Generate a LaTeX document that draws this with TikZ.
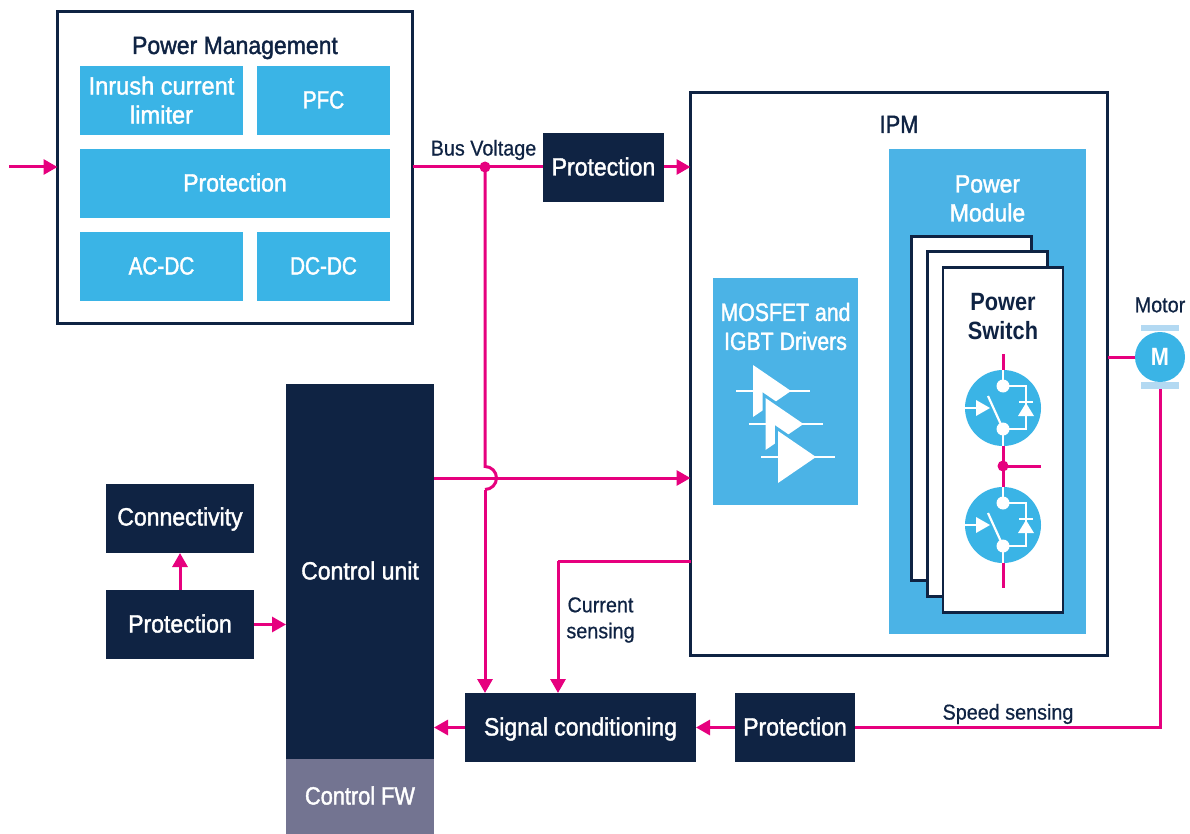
\documentclass[tikz,border=0pt]{standalone}
\usepackage{fontspec}
\setmainfont[FakeStretch=0.92,FakeBold=1.5]{Liberation Sans}
\newfontfamily\capsfont[FakeStretch=0.83,FakeBold=1.5]{Liberation Sans}
\newfontfamily\driverfont[FakeStretch=0.85,FakeBold=1.5]{Liberation Sans}
\newfontfamily\widefont[FakeStretch=0.87,FakeBold=1.5]{Liberation Sans}
\newfontfamily\inrushfont[FakeStretch=0.945,FakeBold=1.5]{Liberation Sans}
\newfontfamily\switchfont[FakeStretch=0.87]{Liberation Sans Bold}
\newfontfamily\labelfont[FakeStretch=0.92,FakeBold=0.6]{Liberation Sans}
\usetikzlibrary{arrows.meta}
\definecolor{stnavy}{HTML}{0F2343}
\definecolor{stpink}{HTML}{E6007E}
\definecolor{stblue}{HTML}{3AB4E6}
\definecolor{stsky}{HTML}{4BB3E6}
\definecolor{stpale}{HTML}{B3D9F2}
\definecolor{stgrey}{HTML}{737491}
\tikzset{
  txt/.style={font=\fontsize{25}{29}\selectfont, align=center, inner sep=0pt, outer sep=0pt},
  single/.style={text height=18pt, text depth=2pt},
  small/.style={font=\fontsize{21.5}{26}\selectfont\labelfont, align=center, inner sep=0pt, text=stnavy},
  outerbox/.style={txt, draw=stnavy, line width=2.8pt, fill=white, text=stnavy},
  lightbox/.style={txt, fill=stblue, text=white},
  darkbox/.style={txt, single, fill=stnavy, text=white},
  wire/.style={draw=stpink, line width=3pt},
  flow/.style={wire, -{Triangle[length=14pt,width=15pt]}},
  whiteline/.style={draw=white, line width=2.2pt}
}

\begin{document}
\begin{tikzpicture}[x=1pt,y=-1pt]
            \useasboundingbox (0, 0) rectangle (1190, 834);
            % power management
            \node[outerbox, minimum width=355, minimum height=312] (pm) at (235, 167.5) {};
            \node[txt, single, text=stnavy] (pmtitle) at (235, 46) {Power Management};
            \node[lightbox, minimum width=163, minimum height=69, font=\fontsize{25}{29}\selectfont\inrushfont] (inrush) at (161.5, 100.5) {\raisebox{1pt}{Inrush current}\\\raisebox{1pt}{limiter}};
            \node[lightbox, single, minimum width=133, minimum height=69, font=\fontsize{25}{29}\selectfont\capsfont] (pfc) at (323.5, 100.5) {PFC};
            \node[lightbox, single, minimum width=310, minimum height=69] (pmprot) at (235, 183.5) {Protection};
            \node[lightbox, single, minimum width=163, minimum height=69, font=\fontsize{25}{29}\selectfont\capsfont] (acdc) at (161.5, 266.5) {AC-DC};
            \node[lightbox, single, minimum width=133, minimum height=69, font=\fontsize{25}{29}\selectfont\capsfont] (dcdc) at (323.5, 266.5) {DC-DC};
            % ipm
            \node[outerbox, minimum width=417, minimum height=563] (ipm) at (899, 374) {};
            \node[txt, single, text=stnavy, font=\fontsize{25}{29}\selectfont\widefont] (ipmtitle) at (899, 125) {IPM};
            \node[lightbox, fill=stsky, minimum width=197, minimum height=485] (module) at (987.5, 391.5) {};
            \node[txt, text=white] (moduletitle) at (987.5, 198.5) {Power\\Module};
            \node[outerbox, minimum width=120, minimum height=344] (sheeta) at (971.5, 408.5) {};
            \node[outerbox, minimum width=120, minimum height=345] (sheetb) at (987.5, 424) {};
            \node[outerbox, minimum width=120, minimum height=345] (sheetc) at (1003, 440) {};
            \node[txt, text=stnavy, font=\fontsize{25}{29}\selectfont\switchfont] (switchtitle) at (1003, 316.5) {Power\\Switch};
            % drivers
            \node[lightbox, fill=stsky, minimum width=145, minimum height=227] (drivers) at (785.5, 391.5) {};
            \node[txt, text=white, font=\fontsize{25}{29}\selectfont\driverfont] (driverstitle) at (785.5, 326.5) {MOSFET and\\IGBT Drivers};
            \foreach \s in {0, 1, 2} {
              \draw[draw=stsky, line width=6pt] (753+12.5*\s, 365+33*\s) -- (791+12.5*\s, 391+33*\s) -- (753+12.5*\s, 417+33*\s) -- cycle;
              \draw[whiteline] (736+12.5*\s, 391+33*\s) -- (810+12.5*\s, 391+33*\s);
              \fill[white] (753+12.5*\s, 365+33*\s) -- (791+12.5*\s, 391+33*\s) -- (753+12.5*\s, 417+33*\s) -- cycle;
            }
            % switches
            \draw[wire] (1003, 354) -- (1003, 588);
            \draw[wire] (1003, 466) -- (1041, 466);
            \fill[stpink] (1003, 466) circle (5.5);
            \foreach \s in {0, 117} {
              \fill[stblue] (1003, 408+\s) circle (38);
              \draw[whiteline] (1003, 370+\s) -- (1003, 386+\s) -- (1026, 386+\s) -- (1026, 429+\s) -- (1003, 429+\s) -- (1003, 446+\s);
              \fill[white] (1003, 386+\s) circle (6.5);
              \fill[white] (1003, 429+\s) circle (6.5);
              \draw[whiteline] (988, 396+\s) -- (1003, 429+\s);
              \draw[whiteline] (965, 408+\s) -- (978, 408+\s);
              \fill[white] (976, 400+\s) -- (990, 408+\s) -- (976, 416+\s) -- cycle;
              \draw[whiteline] (1019, 402+\s) -- (1033, 402+\s);
              \fill[white] (1026, 403+\s) -- (1034, 416+\s) -- (1018, 416+\s) -- cycle;
            }
            % motor
            \node[small] (motorlabel) at (1160, 305) {Motor};
            \node[fill=stpale, minimum width=38, minimum height=6, inner sep=0pt] (bartop) at (1160, 328) {};
            \node[fill=stpale, minimum width=38, minimum height=7, inner sep=0pt] (barbottom) at (1160, 385.5) {};
            \node[circle, fill=stblue, text=white, minimum size=50, inner sep=0pt, font=\fontsize{25}{29}\selectfont\switchfont] (motor) at (1160, 357) {M};
            % control side
            \node[darkbox, minimum width=148, minimum height=375] (control) at (360, 571.5) {Control unit};
            \node[txt, single, fill=stgrey, text=white, minimum width=148, minimum height=75, font=\fontsize{25}{29}\selectfont\widefont] (firmware) at (360, 796.5) {Control FW};
            \node[darkbox, text depth=4pt, minimum width=148, minimum height=69] (connect) at (180, 518.5) {Connectivity};
            \node[darkbox, minimum width=148, minimum height=69] (ctrlprot) at (180, 624.5) {Protection};
            \node[darkbox, minimum width=121, minimum height=69] (busprot) at (603.5, 167.5) {Protection};
            \node[darkbox, minimum width=231, minimum height=69] (signal) at (580.5, 727.5) {Signal conditioning};
            \node[darkbox, minimum width=120, minimum height=69] (speedprot) at (795, 727.5) {Protection};
            % coordinates
            \coordinate (input) at (9, 167);
            \coordinate (bus) at (485, 167);
            \coordinate (drive) at (485, 478);
            \coordinate (hopup) at (485, 466.5);
            \coordinate (hopdown) at (485, 489.5);
            \coordinate (sense) at (558, 561);
            \coordinate (speed) at (1160, 727);
            % connectors
            \draw[flow] (input) -- (pm.west |- input);
            \draw[wire] (pm.east |- bus) -- (busprot.west |- bus);
            \draw[flow] (busprot.east |- bus) -- (ipm.west |- bus);
            \fill[stpink] (bus) circle (5.5);
            \draw[wire] (bus) -- (hopup) arc[start angle=-90, end angle=90, radius=11.5];
            \draw[flow] (hopdown) -- (bus |- signal.north);
            \draw[flow] (control.east |- drive) -- (ipm.west |- drive);
            \draw[wire] (ipm.west |- sense) -- (sense);
            \draw[flow] (sense) -- (sense |- signal.north);
            \draw[flow] (ctrlprot) -- (connect);
            \draw[flow] (ctrlprot) -- (control.west |- ctrlprot);
            \draw[flow] (speedprot) -- (signal);
            \draw[flow] (signal) -- (control.east |- signal);
            \draw[wire] (ipm.east |- motor) -- (motor);
            \draw[wire] (barbottom) -- (speed) -- (speedprot.east |- speed);
            % labels
            \node[small] (buslabel) at (483.5, 150) {Bus Voltage};
            \node[small] (currentlabel) at (600.5, 620) {Current\\sensing};
            \node[small] (speedlabel) at (1008, 714) {Speed sensing};
          \end{tikzpicture}
\end{document}
